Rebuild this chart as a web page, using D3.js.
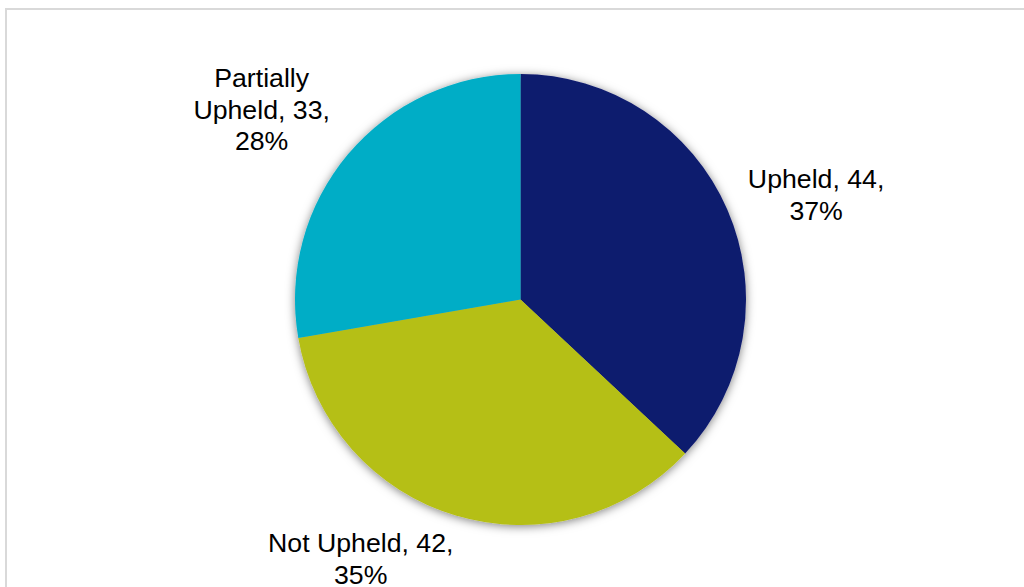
<!DOCTYPE html>
<html>
<head>
<meta charset="utf-8">
<script src="https://cdn.jsdelivr.net/npm/d3@7"></script>
<style>
  html, body { margin: 0; padding: 0; background: #fff; }
  svg { display: block; }
</style>
</head>
<body>
<svg id="chart" width="1024" height="587"></svg>
<script>
// Complaint outcomes
const categories = ["Upheld", "Not Upheld", "Partially Upheld"];
const counts = [44, 42, 33];
const colors = ["#0E1A6E", "#B5BF12", "#00ADC6"];

const width = 1024, height = 587;
const cx = 520.5, cy = 299.5, radius = 225.5;

const svg = d3.select("#chart");

// Chart-area frame
svg.append("rect")
  .attr("x", 6).attr("y", 9)
  .attr("width", width + 20).attr("height", height + 20)
  .attr("fill", "#fff")
  .attr("stroke", "#D9D9D9")
  .attr("stroke-width", 2);

// Soft shadow round the pie
const defs = svg.append("defs");
const f = defs.append("filter").attr("id", "pieShadow")
  .attr("x", "-20%").attr("y", "-20%").attr("width", "140%").attr("height", "140%");
f.append("feDropShadow")
  .attr("dx", 0).attr("dy", 1.5)
  .attr("stdDeviation", 5)
  .attr("flood-color", "#000")
  .attr("flood-opacity", 0.5);

const data = categories.map((c, i) => ({ name: c, value: counts[i], color: colors[i] }));
const total = d3.sum(counts);

const pie = d3.pie().value(d => d.value).sort(null);
const arc = d3.arc().innerRadius(0).outerRadius(radius);
const arcs = pie(data);

const g = svg.append("g").attr("transform", `translate(${cx},${cy})`);

g.append("g").attr("filter", "url(#pieShadow)")
  .selectAll("path")
  .data(arcs)
  .join("path")
  .attr("d", arc)
  .attr("fill", d => d.data.color);

// Data labels: placed outside each slice along its mid-angle, with small nudges
const labelRadius = radius + 88;
const labelNudge = {
  "Upheld": [8, 20],
  "Not Upheld": [-70, -41],
  "Partially Upheld": [-19, 12]
};
const fontSize = 26.7, lineH = 31.5;

arcs.forEach(d => {
  const mid = (d.startAngle + d.endAngle) / 2;
  const nudge = labelNudge[d.data.name];
  const x = Math.sin(mid) * labelRadius + nudge[0];
  const y = -Math.cos(mid) * labelRadius + nudge[1];
  const pct = Math.round(d.data.value / total * 100) + "%";
  let lines;
  if (d.data.name === "Partially Upheld") {
    lines = ["Partially", "Upheld, " + d.data.value + ",", pct];
  } else {
    lines = [d.data.name + ", " + d.data.value + ",", pct];
  }
  const t = g.append("text")
    .attr("x", x).attr("y", y)
    .attr("text-anchor", "middle")
    .attr("font-family", "'Liberation Sans', Arial, sans-serif")
    .attr("font-size", fontSize)
    .attr("fill", "#000");
  const startDy = -((lines.length - 1) * lineH) / 2 + fontSize * 0.35;
  lines.forEach((ln, i) => {
    t.append("tspan")
      .attr("x", x)
      .attr("dy", i === 0 ? startDy : lineH)
      .text(ln);
  });
});
</script>
</body>
</html>
